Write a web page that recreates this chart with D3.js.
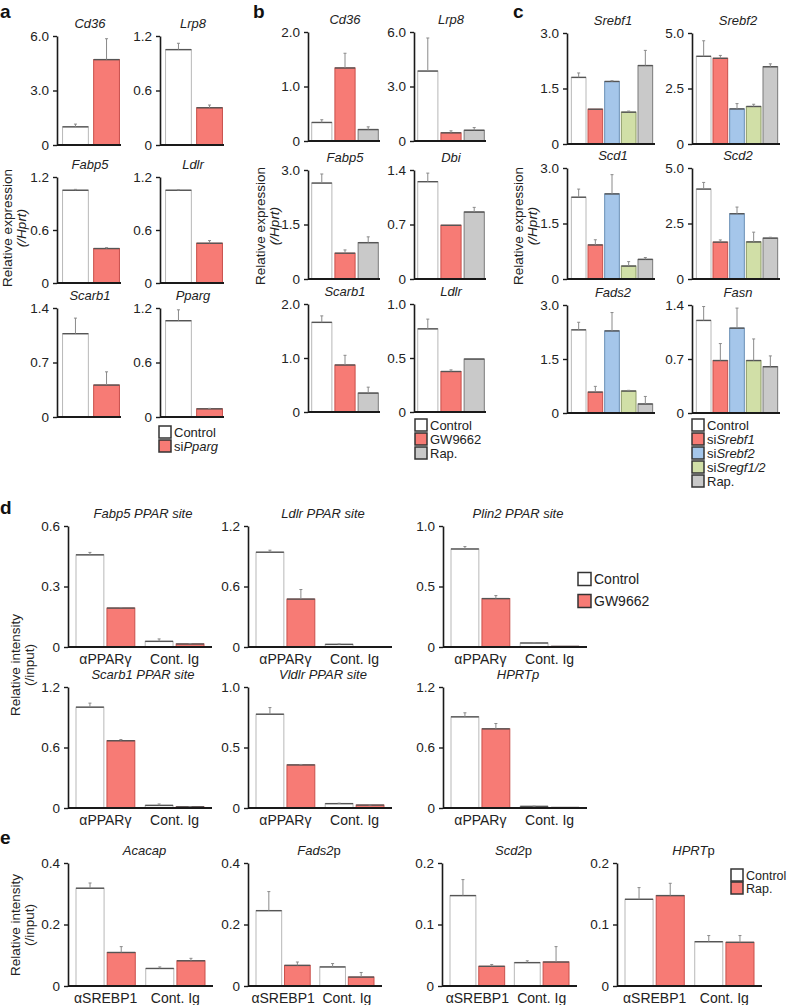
<!DOCTYPE html>
<html><head><meta charset="utf-8">
<script src="https://cdn.jsdelivr.net/npm/d3@7"></script>
<style>body{margin:0;background:#fff}</style>
</head><body>
<script>
// ---------- DATA ----------
const aTitles = ["Cd36","Lrp8","Fabp5","Ldlr","Scarb1","Pparg"];
const aSeries = ["Control","siPparg"];
const aMeans = [[1.0,4.7],[1.05,0.41],[1.05,0.39],[1.05,0.45],[1.07,0.41],[1.06,0.09]];
const aErrs  = [[0.15,1.15],[0.07,0.03],[0.01,0.01],[0.005,0.03],[0.2,0.17],[0.12,0.005]];
const aMax = [6.0,1.2,1.2,1.2,1.4,1.2];
const aTicks = [["0","3.0","6.0"],["0","0.6","1.2"],["0","0.6","1.2"],["0","0.6","1.2"],["0","0.7","1.4"],["0","0.6","1.2"]];

const bTitles = ["Cd36","Lrp8","Fabp5","Dbi","Scarb1","Ldlr"];
const bSeries = ["Control","GW9662","Rap."];
const bMeans = [[0.34,1.34,0.21],[3.85,0.45,0.59],[2.64,0.71,1.0],[1.25,0.69,0.86],[1.66,0.87,0.35],[0.77,0.375,0.49]];
const bErrs  = [[0.05,0.27,0.05],[1.82,0.11,0.15],[0.25,0.09,0.16],[0.11,0,0.06],[0.12,0.18,0.11],[0.09,0.015,0]];
const bMax = [2.0,6.0,3.0,1.4,2.0,1.0];
const bTicks = [["0","1.0","2.0"],["0","3.0","6.0"],["0","1.5","3.0"],["0","0.7","1.4"],["0","1.0","2.0"],["0","0.5","1.0"]];

const cTitles = ["Srebf1","Srebf2","Scd1","Scd2","Fads2","Fasn"];
const cSeries = ["Control","siSrebf1","siSrebf2","siSregf1/2","Rap."];
const cMeans = [[1.80,0.94,1.69,0.86,2.12],[3.95,3.86,1.58,1.69,3.48],[2.21,0.92,2.30,0.35,0.53],[4.05,1.66,2.94,1.67,1.84],[2.31,0.58,2.28,0.61,0.25],[1.20,0.68,1.10,0.68,0.60]];
const cErrs  = [[0.12,0,0.02,0.03,0.41],[0.7,0.13,0.24,0.1,0.13],[0.22,0.14,0.52,0.12,0.05],[0.3,0.1,0.3,0.44,0.04],[0.21,0.16,0.51,0.02,0.21],[0.18,0.22,0.26,0.28,0.14]];
const cMax = [3.0,5.0,3.0,5.0,3.0,1.4];
const cTicks = [["0","1.5","3.0"],["0","2.5","5.0"],["0","1.5","3.0"],["0","2.5","5.0"],["0","1.5","3.0"],["0","0.7","1.4"]];

const dTitles = ["Fabp5 PPAR site","Ldlr PPAR site","Plin2 PPAR site","Scarb1 PPAR site","Vldlr PPAR site","HPRTp"];
const dGroups = ["αPPARγ","Cont. Ig"];
const dSeries = ["Control","GW9662"];
const dControl    = [[0.457,0.028],[0.94,0.026],[0.81,0.033],[1.00,0.026],[0.775,0.036],[0.904,0.016]];
const dControlErr = [[0.012,0.012],[0.02,0.004],[0.02,0.003],[0.04,0.014],[0.055,0.004],[0.04,0.003]];
const dGW         = [[0.193,0.015],[0.475,0.003],[0.40,0.005],[0.667,0.012],[0.356,0.024],[0.785,0.005]];
const dGWErr      = [[0.003,0.002],[0.095,0],[0.025,0],[0.012,0.001],[0.004,0.001],[0.053,0]];
const dMax = [0.6,1.2,1.0,1.2,1.0,1.2];
const dTicks = [["0","0.3","0.6"],["0","0.6","1.2"],["0","0.5","1.0"],["0","0.6","1.2"],["0","0.5","1.0"],["0","0.6","1.2"]];

const eTitles = [[["Acacap",true]],[["Fads2",true],["p",false]],[["Scd2",true],["p",false]],[["HPRT",true],["p",false]]];
const eGroups = ["αSREBP1","Cont. Ig"];
const eSeries = ["Control","Rap."];
const eControl    = [[0.318,0.057],[0.245,0.062],[0.147,0.038],[0.141,0.072]];
const eControlErr = [[0.017,0.005],[0.062,0.011],[0.026,0.003],[0.019,0.010]];
const eRap        = [[0.109,0.082],[0.067,0.029],[0.032,0.039],[0.147,0.071]];
const eRapErr     = [[0.019,0.008],[0.011,0.015],[0.003,0.025],[0.020,0.011]];
const eMax = [0.4,0.4,0.2,0.2];
const eTicks = [["0","0.2","0.4"],["0","0.2","0.4"],["0","0.1","0.2"],["0","0.1","0.2"]];

// ---------- STYLE ----------
const FONT = "'Liberation Sans', Arial, Helvetica, sans-serif";
const FILL = {"Control":"#ffffff","siPparg":"#f77b75","GW9662":"#f77b75","Rap.":"#c9c9c9","siSrebf1":"#f77b75","siSrebf2":"#a5c6ea","siSregf1/2":"#d1dfa7"};
const SIDE = {"Control":"#b8b8b8","siPparg":"#c9504b","GW9662":"#c9504b","Rap.":"#7a7a7a","siSrebf1":"#c9504b","siSrebf2":"#6b8fb5","siSregf1/2":"#8d9a66"};
const ERefill = {"Control":"#ffffff","Rap.":"#f77b75"};
const EStroke = {"Control":"#b8b8b8","Rap.":"#c9504b"};

const svg = d3.select("body").append("svg").attr("width",788).attr("height",1005)
  .style("font-family",FONT);

function richText(sel, parts) {
  parts.forEach(p => sel.append("tspan").text(p[0]).attr("font-style", p[1] ? "italic" : "normal"));
}

function drawPanel(o) {
  const g = svg.append("g");
  const y = d3.scaleLinear().domain([0,o.max]).range([o.yBot,o.yTop]);
  const gx = d3.scaleBand().domain(o.groups).range(o.range).paddingInner(o.gPad||0);
  const sx = d3.scaleBand().domain(o.series).range([0,gx.bandwidth()])
    .paddingInner(o.sPadIn).paddingOuter(o.sPadOut||0);
  o.groups.forEach((gr,gi) => {
    o.series.forEach((s,si) => {
      const v = o.values[gi][si], e = o.errs[gi][si];
      const x = gx(gr) + sx(s), w = sx.bandwidth();
      const fill = (o.fill||FILL)[s], side = (o.side||SIDE)[s];
      g.append("rect").attr("x",x).attr("y",y(v)).attr("width",w).attr("height",o.yBot-y(v))
        .attr("fill",fill).attr("stroke",side).attr("stroke-width",1);
      g.append("line").attr("x1",x).attr("x2",x+w).attr("y1",y(v)).attr("y2",y(v))
        .attr("stroke","#555").attr("stroke-width",1.4);
      if (e > 0) {
        const cx = x + w/2;
        g.append("line").attr("x1",cx).attr("x2",cx).attr("y1",y(v)).attr("y2",y(v+e))
          .attr("stroke","#8a8a8a").attr("stroke-width",1);
        g.append("line").attr("x1",cx-1.5).attr("x2",cx+1.5).attr("y1",y(v+e)).attr("y2",y(v+e))
          .attr("stroke","#8a8a8a").attr("stroke-width",1);
      }
    });
  });
  // x axis baseline
  g.append("line").attr("x1",o.X).attr("x2",o.end).attr("y1",o.yBot).attr("y2",o.yBot)
    .attr("stroke","#1a1a1a").attr("stroke-width",2);
  // y axis
  const axis = d3.axisLeft(y).tickValues([0,o.max/2,o.max]).tickSize(4).tickSizeOuter(0)
    .tickPadding(4).tickFormat((d,i)=>o.ticks[i]);
  const ga = g.append("g").attr("transform",`translate(${o.X},0)`).call(axis);
  ga.select(".domain").attr("stroke","#1a1a1a").attr("stroke-width",1.6);
  ga.selectAll(".tick line").attr("stroke","#1a1a1a").attr("stroke-width",1.4);
  ga.selectAll(".tick text").attr("font-family",FONT).attr("font-size",o.tickFs||13.5).attr("fill","#222");
  // title
  const t = g.append("text").attr("x",o.titleX).attr("y",o.yTop-8).attr("text-anchor","middle")
    .attr("font-size",o.titleFs||13).attr("fill","#222");
  richText(t, o.titleParts);
  // group labels
  if (o.groupLabels) {
    o.groups.forEach(gr => {
      g.append("text").attr("x",gx(gr)+gx.bandwidth()/2).attr("y",o.yBot+17)
        .attr("text-anchor","middle").attr("font-size",14).attr("fill","#222").text(gr);
    });
  }
}

function yLabel(x, cy, lines) {
  lines.forEach((ln,i) => {
    const t = svg.append("text").attr("transform",`translate(${x+i*14},${cy}) rotate(-90)`)
      .attr("text-anchor","middle").attr("font-size",13.5).attr("fill","#222");
    richText(t, ln);
  });
}

function legend(x, y0, step, items, size, fs) {
  items.forEach((it,i) => {
    const yy = y0 + i*step;
    svg.append("rect").attr("x",x).attr("y",yy-size/2).attr("width",size).attr("height",size)
      .attr("fill",it.fill).attr("stroke","#333").attr("stroke-width",1.5);
    const t = svg.append("text").attr("x",x+size+3).attr("y",yy).attr("dy","0.36em")
      .attr("font-size",fs).attr("fill","#222");
    richText(t, it.parts);
  });
}

function panelLetter(x, y, s) {
  svg.append("text").attr("x",x).attr("y",y).attr("font-size",19).attr("font-weight","bold")
    .attr("fill","#111").text(s);
}

// ---------- PANEL a ----------
const aCols = [57,160];
const aRows = [[36,145],[177,283],[308,417]];
aTitles.forEach((t,i) => {
  const X = aCols[i%2], r = aRows[Math.floor(i/2)];
  drawPanel({X, end:X+64, yTop:r[0], yBot:r[1], max:aMax[i], ticks:aTicks[i],
    groups:[0], series:aSeries, values:[aMeans[i]], errs:[aErrs[i]],
    range:[X+4,X+64], sPadIn:0.17, sPadOut:0.05, titleParts:[[t,true]], titleX:X+33});
});
panelLetter(0,18,"a");
yLabel(12, 228, [[["Relative expression",false]],[["(/Hprt)",true]]]);
legend(159, 432, 14, [{fill:FILL["Control"],parts:[["Control",false]]},
  {fill:FILL["siPparg"],parts:[["si",false],["Pparg",true]]}], 12, 13);

// ---------- PANEL b ----------
const bCols = [308,414];
const bRows = [[32,141],[170,279],[304,412]];
bTitles.forEach((t,i) => {
  const X = bCols[i%2], r = bRows[Math.floor(i/2)];
  drawPanel({X, end:X+72, yTop:r[0], yBot:r[1], max:bMax[i], ticks:bTicks[i],
    groups:[0], series:bSeries, values:[bMeans[i]], errs:[bErrs[i]],
    range:[X+3,X+71], sPadIn:0.13, sPadOut:0.03, titleParts:[[t,true]], titleX:X+37});
});
panelLetter(253,18,"b");
yLabel(265, 226, [[["Relative expression",false]],[["(/Hprt)",true]]]);
legend(415, 425, 14, [{fill:FILL["Control"],parts:[["Control",false]]},
  {fill:FILL["GW9662"],parts:[["GW9662",false]]},{fill:FILL["Rap."],parts:[["Rap.",false]]}], 12, 13);

// ---------- PANEL c ----------
const cCols = [567,692];
const cRows = [[33,144],[168,279],[305,413]];
cTitles.forEach((t,i) => {
  const X = cCols[i%2], r = cRows[Math.floor(i/2)];
  drawPanel({X, end:X+88, yTop:r[0], yBot:r[1], max:cMax[i], ticks:cTicks[i],
    groups:[0], series:cSeries, values:[cMeans[i]], errs:[cErrs[i]],
    range:[X+4,X+86], sPadIn:0.12, sPadOut:0.02, titleParts:[[t,true]], titleX:X+46});
});
panelLetter(513,18,"c");
yLabel(523, 226, [[["Relative expression",false]],[["(/Hprt)",true]]]);
legend(692, 425, 14, [{fill:FILL["Control"],parts:[["Control",false]]},
  {fill:FILL["siSrebf1"],parts:[["si",false],["Srebf1",true]]},
  {fill:FILL["siSrebf2"],parts:[["si",false],["Srebf2",true]]},
  {fill:FILL["siSregf1/2"],parts:[["si",false],["Sregf1/2",true]]},
  {fill:FILL["Rap."],parts:[["Rap.",false]]}], 12, 13);

// ---------- PANEL d ----------
const dCols = [68,248,443];
const dRows = [[526,647],[687,808]];
dTitles.forEach((t,i) => {
  const X = dCols[i%3], r = dRows[Math.floor(i/3)];
  drawPanel({X, end:X+144, yTop:r[0], yBot:r[1], max:dMax[i], ticks:dTicks[i],
    groups:dGroups, series:dSeries,
    values:[[dControl[i][0],dGW[i][0]],[dControl[i][1],dGW[i][1]]],
    errs:[[dControlErr[i][0],dGWErr[i][0]],[dControlErr[i][1],dGWErr[i][1]]],
    range:[X+8,X+136], gPad:0.15, sPadIn:0.1, titleParts:[[t,true]], titleX:X+75, groupLabels:true});
});
panelLetter(0,514,"d");
yLabel(20, 665, [[["Relative intensity",false]],[["(/input)",false]]]);
legend(578, 579, 22, [{fill:FILL["Control"],parts:[["Control",false]]},
  {fill:FILL["GW9662"],parts:[["GW9662",false]]}], 13, 14);

// ---------- PANEL e ----------
const eCols = [68,248,442,617];
const eEnds = [213,382,577,762];
eTitles.forEach((t,i) => {
  const X = eCols[i], end = eEnds[i];
  drawPanel({X, end, yTop:863, yBot:986, max:eMax[i], ticks:eTicks[i],
    groups:eGroups, series:eSeries,
    values:[[eControl[i][0],eRap[i][0]],[eControl[i][1],eRap[i][1]]],
    errs:[[eControlErr[i][0],eRapErr[i][0]],[eControlErr[i][1],eRapErr[i][1]]],
    fill:ERefill, side:EStroke,
    range:[X+8,end-8], gPad:0.15, sPadIn:0.1, titleParts:t, titleX:(X+end)/2+4, groupLabels:true});
});
panelLetter(0,844,"e");
yLabel(20, 925, [[["Relative intensity",false]],[["(/input)",false]]]);
legend(731, 875, 13, [{fill:"#ffffff",parts:[["Control",false]]},
  {fill:"#f77b75",parts:[["Rap.",false]]}], 12, 12.5);
</script>
</body></html>
